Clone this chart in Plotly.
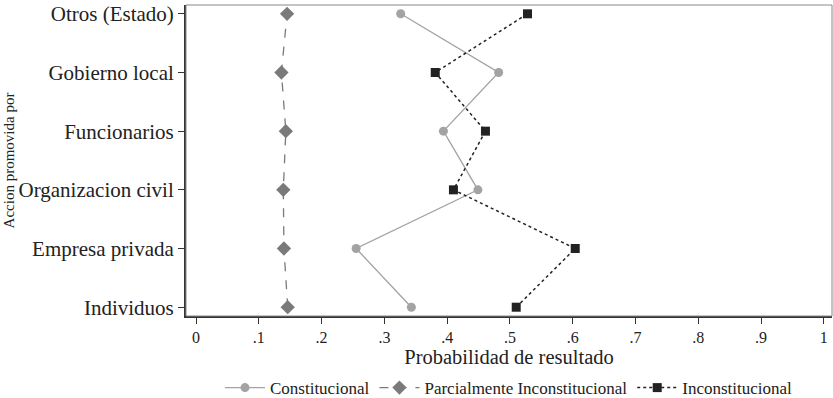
import plotly.graph_objects as go

categories = ["Individuos", "Empresa privada", "Organizacion civil", "Funcionarios", "Gobierno local", "Otros (Estado)"]
constitucional = [0.343, 0.255, 0.449, 0.394, 0.482, 0.326]
parcial = [0.146, 0.140, 0.139, 0.143, 0.136, 0.145]
inconstitucional = [0.510, 0.604, 0.410, 0.461, 0.381, 0.528]
tick_vals = [0, 0.1, 0.2, 0.3, 0.4, 0.5, 0.6, 0.7, 0.8, 0.9, 1]
tick_text = ["0", ".1", ".2", ".3", ".4", ".5", ".6", ".7", ".8", ".9", "1"]

ypos = list(range(len(categories)))
font = "Liberation Serif, Times New Roman, serif"

fig = go.Figure()
fig.add_trace(go.Scatter(x=constitucional, y=ypos, name="Constitucional", mode="lines+markers",
                         line=dict(color="#a3a3a3", width=1.3),
                         marker=dict(symbol="circle", size=9, color="#a3a3a3")))
fig.add_trace(go.Scatter(x=parcial, y=ypos, name="Parcialmente Inconstitucional", mode="lines+markers",
                         line=dict(color="#7a7a7a", width=1.3, dash="dash"),
                         marker=dict(symbol="diamond", size=11, color="#7a7a7a")))
fig.add_trace(go.Scatter(x=inconstitucional, y=ypos, name="Inconstitucional", mode="lines+markers",
                         line=dict(color="#222222", width=1.5, dash="dot"),
                         marker=dict(symbol="square", size=9, color="#222222")))

fig.update_layout(
    width=833, height=398,
    margin=dict(l=186, r=1, t=5, b=82, autoexpand=False),
    paper_bgcolor="white", plot_bgcolor="white",
    font=dict(family=font, color="#222222"),
    showlegend=True,
    legend=dict(orientation="h", x=0.5, xanchor="center", xref="paper",
                y=0.025, yref="container", yanchor="middle",
                font=dict(size=17, family=font), traceorder="normal", itemwidth=40),
    shapes=[dict(type="rect", xref="paper", yref="paper", x0=0, x1=1, y0=0, y1=1,
                 line=dict(color="#888888", width=1), layer="above")],
)
fig.update_xaxes(range=[-0.016, 1.013], tickvals=tick_vals, ticktext=tick_text, automargin=False,
                 showgrid=False, zeroline=False, showline=True, linecolor="#333333", linewidth=2,
                 ticks="outside", ticklen=6, tickcolor="#333333",
                 tickfont=dict(size=16, family=font),
                 title=dict(text="Probabilidad de resultado", font=dict(size=20.5, family=font), standoff=0))
fig.update_yaxes(range=[-0.15, 5.15], tickvals=ypos, ticktext=categories, automargin=False,
                 showgrid=False, zeroline=False, showline=True, linecolor="#333333", linewidth=2,
                 ticks="outside", ticklen=6, tickcolor="#333333",
                 tickfont=dict(size=21, family=font),
                 title=dict(text="Accion promovida por", font=dict(size=15, family=font), standoff=0))

fig.write_html("out.html")
